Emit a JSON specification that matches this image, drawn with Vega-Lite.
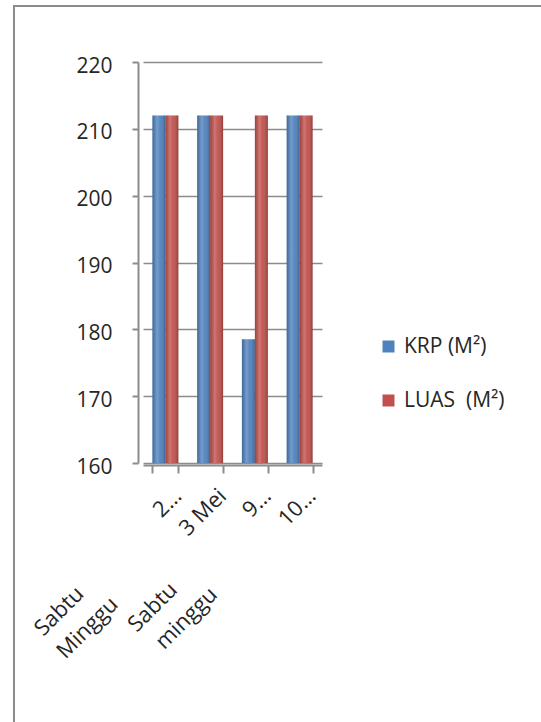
{
  "$schema": "https://vega.github.io/schema/vega-lite/v6.json",
  "width": 533,
  "height": 722,
  "autosize": {"type": "none"},
  "padding": {"left": 14, "top": 6, "right": -6, "bottom": -6},
  "background": "white",
  "config": {
    "view": {"stroke": "#8c8c8c", "strokeWidth": 2},
    "font": "Open Sans",
    "axis": {
      "domainColor": "#8c8c8c",
      "domainWidth": 2,
      "tickColor": "#8c8c8c",
      "tickWidth": 2,
      "gridColor": "#8c8c8c",
      "gridWidth": 1.5,
      "labelColor": "#262626",
      "labelFontSize": 21,
      "labelFont": "Open Sans"
    }
  },
  "data": {
    "values": [
      {"tanggal": "Sabtu\u00a0\u00a0\u00a0\u00a0\u00a0\u00a0\u00a0\u00a0\u00a0\u00a0\u00a0\u00a0\u00a0\u00a0\u00a0\u00a0\u00a0\u00a0\u00a02…", "seri": "KRP (M²)", "nilai": 212},
      {"tanggal": "Sabtu\u00a0\u00a0\u00a0\u00a0\u00a0\u00a0\u00a0\u00a0\u00a0\u00a0\u00a0\u00a0\u00a0\u00a0\u00a0\u00a0\u00a0\u00a0\u00a02…", "seri": "LUAS\u00a0 (M²)", "nilai": 212},
      {"tanggal": "Minggu\u00a0\u00a0\u00a0\u00a0\u00a0\u00a0\u00a0\u00a0\u00a0\u00a0\u00a0\u00a0\u00a0\u00a0\u00a0\u00a0\u00a03 Mei\u2002\u2002", "seri": "KRP (M²)", "nilai": 212},
      {"tanggal": "Minggu\u00a0\u00a0\u00a0\u00a0\u00a0\u00a0\u00a0\u00a0\u00a0\u00a0\u00a0\u00a0\u00a0\u00a0\u00a0\u00a0\u00a03 Mei\u2002\u2002", "seri": "LUAS\u00a0 (M²)", "nilai": 212},
      {"tanggal": "Sabtu\u00a0\u00a0\u00a0\u00a0\u00a0\u00a0\u00a0\u00a0\u00a0\u00a0\u00a0\u00a0\u00a0\u00a0\u00a0\u00a0\u00a0\u00a09…", "seri": "KRP (M²)", "nilai": 178.5},
      {"tanggal": "Sabtu\u00a0\u00a0\u00a0\u00a0\u00a0\u00a0\u00a0\u00a0\u00a0\u00a0\u00a0\u00a0\u00a0\u00a0\u00a0\u00a0\u00a0\u00a09…", "seri": "LUAS\u00a0 (M²)", "nilai": 212},
      {"tanggal": "minggu\u00a0\u00a0\u00a0\u00a0\u00a0\u00a0\u00a0\u00a0\u00a0\u00a0\u00a0\u00a0\u00a0\u00a0\u00a0\u00a0\u00a010…", "seri": "KRP (M²)", "nilai": 212},
      {"tanggal": "minggu\u00a0\u00a0\u00a0\u00a0\u00a0\u00a0\u00a0\u00a0\u00a0\u00a0\u00a0\u00a0\u00a0\u00a0\u00a0\u00a0\u00a010…", "seri": "LUAS\u00a0 (M²)", "nilai": 212}
    ]
  },
  "encoding": {
    "x": {
      "field": "tanggal",
      "type": "nominal",
      "sort": null,
      "scale": {"range": [129, 308], "paddingInner": 0.42, "paddingOuter": 0.21},
      "axis": {
        "title": null,
        "orient": "bottom",
        "offset": -263,
        "tickBand": "extent",
        "tickSize": 8,
        "tickOffset": -5,
        "labelAngle": -45,
        "labelAlign": "right",
        "labelBaseline": "middle",
        "labelOffset": 12,
        "labelPadding": 19,
        "labelLimit": 600,
        "labelFontSize": 22,
        "grid": false
      }
    },
    "xOffset": {"field": "seri", "type": "nominal", "sort": null},
    "y": {
      "field": "nilai",
      "type": "quantitative",
      "scale": {"domain": [160, 220], "range": [457, 56], "zero": false, "nice": false},
      "axis": {
        "title": null,
        "offset": -124,
        "values": [160, 170, 180, 190, 200, 210, 220],
        "format": "d",
        "tickSize": 6,
        "labelPadding": 20,
        "labelOffset": 4,
        "grid": true
      }
    },
    "y2": {"datum": 160}
  },
  "layer": [
    {
      "mark": {"type": "bar"},
      "encoding": {
        "color": {
          "field": "seri",
          "type": "nominal",
          "sort": null,
          "scale": {"range": ["#4F81BD", "#C0504D"]},
          "legend": {
            "title": null,
            "orient": "none",
            "legendX": 364,
            "legendY": 330,
            "padding": 0,
            "symbolType": "square",
            "symbolSize": 144,
            "symbolStrokeWidth": 0,
            "symbolOpacity": 1,
            "labelFontSize": 21,
            "labelFont": "Open Sans",
            "labelColor": "#262626",
            "labelOffset": 5,
            "rowPadding": 32
          }
        }
      }
    },
    {
      "mark": {
        "type": "bar",
        "fill": {
          "gradient": "linear",
          "x1": 0, "x2": 1, "y1": 0, "y2": 0,
          "stops": [
            {"offset": 0, "color": "rgba(0,0,0,0.18)"},
            {"offset": 0.35, "color": "rgba(255,255,255,0.22)"},
            {"offset": 0.6, "color": "rgba(255,255,255,0.05)"},
            {"offset": 1, "color": "rgba(0,0,0,0.25)"}
          ]
        }
      }
    }
  ]
}
